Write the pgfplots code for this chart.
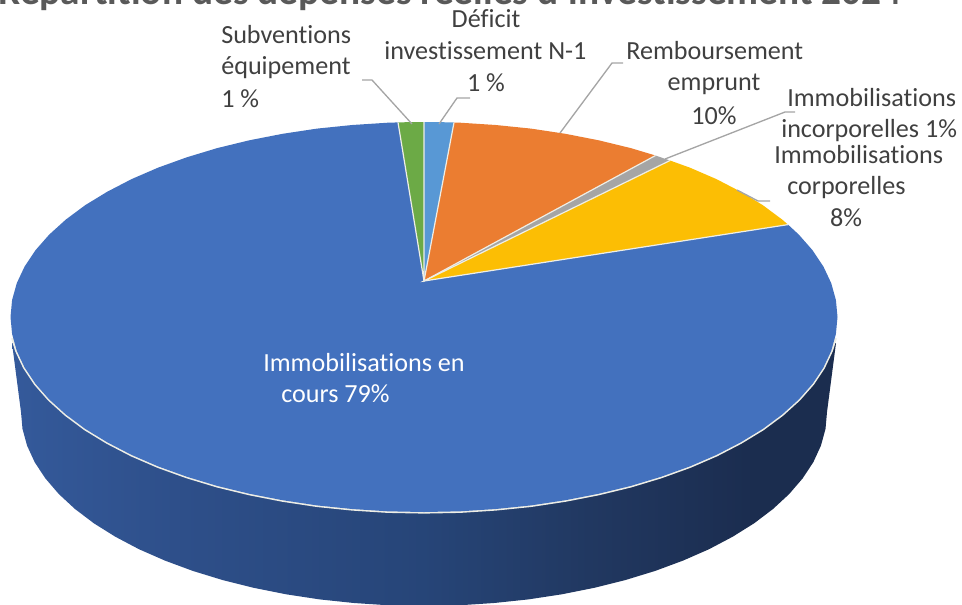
\documentclass[border=0pt]{standalone}
\usepackage{pgfplots}
\pgfplotsset{compat=1.18}
\usepackage{fontspec}
\setmainfont[Ligatures=NoCommon]{Carlito}

\definecolor{slBlue}{RGB}{67,113,190}
\definecolor{slOrange}{RGB}{235,125,49}
\definecolor{slGray}{RGB}{165,165,165}
\definecolor{slYellow}{RGB}{252,190,4}
\definecolor{slSky}{RGB}{88,152,213}
\definecolor{slGreen}{RGB}{108,170,70}
\definecolor{lblText}{RGB}{64,64,64}
\definecolor{titleText}{RGB}{89,89,89}
\definecolor{leader}{RGB}{165,165,165}
\definecolor{rim}{RGB}{238,238,230}

\pgfdeclarehorizontalshading{sideshade}{100bp}{
  rgb(0bp)=(0.24,0.40,0.69);
  rgb(8bp)=(0.24,0.40,0.69);
  rgb(23bp)=(0.21,0.36,0.62);
  rgb(35bp)=(0.18,0.31,0.54);
  rgb(50bp)=(0.15,0.27,0.47);
  rgb(60bp)=(0.13,0.22,0.38);
  rgb(70bp)=(0.105,0.175,0.31);
  rgb(100bp)=(0.105,0.175,0.31)}

% one line of label text, baseline given in picture pixels
\newcommand{\lbl}[4][lblText]{\node[anchor=base west,inner sep=0pt,text=#1,font=\fontsize{19.6}{22}\selectfont] at (axis cs:#2,#3) {#4};}
\newcommand{\lblc}[3]{\node[anchor=base,inner sep=0pt,text=lblText,font=\fontsize{19.6}{22}\selectfont] at (axis cs:#1,#2) {#3};}

\begin{document}
\begin{tikzpicture}
\useasboundingbox (0,0) rectangle (721.5pt,453pt);
\clip (0,0) rectangle (721.5pt,453pt);
\begin{axis}[
    at={(0,0)}, anchor=south west,
    scale only axis,
    width=721.5pt, height=453pt,
    xmin=0, xmax=962,
    ymin=0, ymax=604,
    y dir=reverse,
    hide axis,
]

% side of the disc
\addplot[draw=none, shade, shading=sideshade] coordinates {
    (12,343) (21,412) (22.5,428.9) (27.1,445.7) (34.7,462.2) (45.3,478.3) (58.8,494)
    (75,509) (93.9,523.3) (115.3,536.7) (139,549.2) (165,560.6) (192.8,570.9)
    (222.5,580) (253.7,587.8) (286.2,594.3) (319.7,599.4) (354,603) (388.9,605.3)
    (424,606) (459.1,605.3) (494,603) (528.3,599.4) (561.8,594.3) (594.3,587.8)
    (625.5,580) (655.2,570.9) (683,560.6) (709,549.2) (732.7,536.7) (754.1,523.3)
    (773,509) (789.2,494) (802.7,478.3) (813.3,462.2) (820.9,445.7) (825.5,428.9)
    (827,412) (836,343)
} -- cycle;

% rim highlight
\addplot[rim, line width=2.4pt] coordinates {
    (12.6,338) (16.8,350.9) (24.6,367.5) (35.4,383.7) (49.2,399.4) (65.9,414.5) (85.3,428.9)
    (107.3,442.3) (131.6,454.9) (158.2,466.4) (186.8,476.7) (217.2,485.9) (249.3,493.7)
    (282.6,500.2) (317,505.4) (352.2,509) (387.9,511.3) (424,512) (460.1,511.3)
    (495.8,509) (531,505.4) (565.4,500.2) (598.7,493.7) (630.8,485.9) (661.2,476.7)
    (689.8,466.4) (716.4,454.9) (740.7,442.3) (762.7,428.9) (782.1,414.5) (798.8,399.4)
    (812.6,383.7) (823.4,367.5) (831.2,350.9) (835.4,338)
};

% top face, one polygon per slice
\addplot[draw=none, fill=slBlue] coordinates {
    (424,281) (788,224.6) (798.8,234.6) (812.6,250.3) (823.4,266.5) (831.2,283.1)
    (835.9,300) (837.5,317) (835.9,334) (831.2,350.9) (823.4,367.5) (812.6,383.7)
    (798.8,399.4) (782.1,414.5) (762.7,428.9) (740.7,442.3) (716.4,454.9) (689.8,466.4)
    (661.2,476.7) (630.8,485.9) (598.7,493.7) (565.4,500.2) (531,505.4) (495.8,509)
    (460.1,511.3) (424,512) (387.9,511.3) (352.2,509) (317,505.4) (282.6,500.2)
    (249.3,493.7) (217.2,485.9) (186.8,476.7) (158.2,466.4) (131.6,454.9) (107.3,442.3)
    (85.3,428.9) (65.9,414.5) (49.2,399.4) (35.4,383.7) (24.6,367.5) (16.8,350.9)
    (12.1,334) (10.5,317) (12.1,300) (16.8,283.1) (24.6,266.5) (35.4,250.3) (49.2,234.6)
    (65.9,219.5) (85.3,205.1) (107.3,191.7) (131.6,179.1) (158.2,167.6) (186.8,157.3)
    (217.2,148.1) (249.3,140.3) (282.6,133.8) (317,128.6) (352.2,125) (387.9,122.7)
    (398,122.4)
} -- cycle;
\addplot[draw=none, fill=slGreen] coordinates {(424,281) (398,122.4) (411,122.1) (424,122)} -- cycle;
\addplot[draw=none, fill=slSky] coordinates {(424,281) (424,122) (439,122.1) (454,122.5)} -- cycle;
\addplot[draw=none, fill=slOrange] coordinates {
    (424,281) (454,122.5) (460.1,122.7) (495.8,125) (531,128.6) (565.4,133.8)
    (598.7,140.3) (630.8,148.1) (655.5,155.5)
} -- cycle;
\addplot[draw=none, fill=slGray] coordinates {(424,281) (655.5,155.5) (670,160.5)} -- cycle;
\addplot[draw=none, fill=slYellow] coordinates {
    (424,281) (670,160.5) (689.8,167.6) (716.4,179.1) (740.7,191.7) (762.7,205.1)
    (782.1,219.5) (788,224.6)
} -- cycle;

% slice separators
\addplot[rim, line width=0.9pt] coordinates {(398,122.4) (424,281) (424,122)};
\addplot[rim, line width=0.9pt] coordinates {(454,122.5) (424,281) (655.5,155.5)};
\addplot[rim, line width=0.9pt] coordinates {(670,160.5) (424,281) (788,224.6)};

% leader lines
\addplot[leader, line width=1pt] coordinates {(362,80) (372,80) (412,124)};
\addplot[leader, line width=1pt] coordinates {(470,98) (457,98) (439,124)};
\addplot[leader, line width=1pt] coordinates {(623,63) (612,63) (560,133)};
\addplot[leader, line width=1pt] coordinates {(795,112) (785,112) (665,159)};
\addplot[leader, line width=1pt] coordinates {(770,201) (758,201) (737,190)};

% title, cut by the top edge as in the source image
\node[anchor=base,inner sep=0pt,text=titleText,font=\fontsize{29.5}{32}\selectfont\bfseries]
    at (axis cs:450,4) {Répartition des dépenses réelles d'investissement 2024};

\lbl{221}{43}{Subventions}
\lbl{221}{74}{équipement}
\lbl{221}{107}{1 \%}
\lblc{486}{27}{Déficit}
\lbl{384}{59}{investissement N-1}
\lblc{486}{91}{1 \%}
\lbl{626}{59}{Remboursement}
\lblc{714}{90}{emprunt}
\lblc{714}{124}{10\%}
\lbl{787}{106}{Immobilisations}
\lbl{781}{137}{incorporelles 1\%}
\lbl{774}{163}{Immobilisations}
\lbl{787}{194}{corporelles}
\lblc{846}{226}{8\%}
\lbl[white]{263}{371}{Immobilisations en}
\lbl[white]{281}{402}{cours 79\%}

\end{axis}
\end{tikzpicture}
\end{document}
